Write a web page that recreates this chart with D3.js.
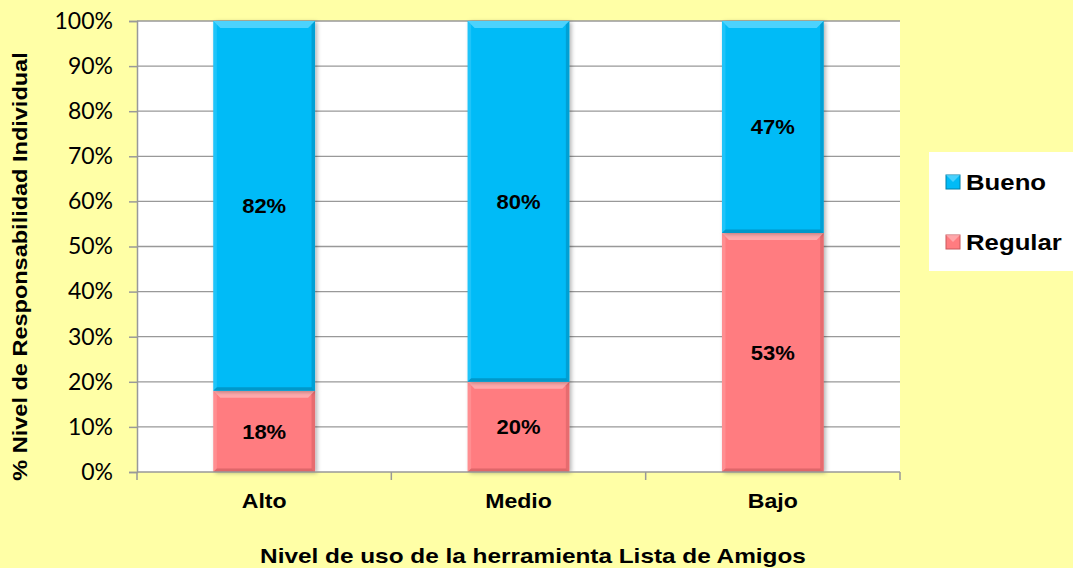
<!DOCTYPE html>
<html><head><meta charset="utf-8">
<script src="https://cdn.jsdelivr.net/npm/d3@7"></script>
<style>
html,body{margin:0;padding:0;background:#FFFFA6;}
svg{display:block;}
</style></head>
<body>
<svg id="chart" width="1073" height="568"></svg>
<script>
const categories = ["Alto", "Medio", "Bajo"];
const regular = [18, 20, 53];
const bueno = [82, 80, 47];
const seriesNames = ["Regular", "Bueno"];
const yTicks = [0,10,20,30,40,50,60,70,80,90,100];

const W = 1073, H = 568;
const m = {left:137, top:21, right:900, bottom:472};
const FONT = "Liberation Sans, Arial, sans-serif";
const svg = d3.select("#chart");
svg.append("rect").attr("width",W).attr("height",H).attr("fill","#FFFFA6");

const x = d3.scaleBand().domain(categories).range([m.left, m.right]).paddingInner(0.6).paddingOuter(0.3);
const xOuter = d3.scaleBand().domain(categories).range([m.left, m.right]);
const y = d3.scaleLinear().domain([0,100]).range([m.bottom, m.top]);

svg.append("rect").attr("x",m.left).attr("y",m.top).attr("width",m.right-m.left).attr("height",m.bottom-m.top).attr("fill","#fff");

svg.append("g").selectAll("line").data(yTicks.filter(d=>d>0)).join("line")
  .attr("x1",m.left).attr("x2",m.right).attr("y1",d=>y(d)).attr("y2",d=>y(d))
  .attr("stroke","#999").attr("stroke-width",1.3);

const colors = {Regular:"#FF7C80", Bueno:"#00BBF7"};
const dark = {Regular:"#C9585C", Bueno:"#0080AA"};
const light = {Regular:"#FFB8BA", Bueno:"#66DAFF"};

const data = categories.map((c,i)=>({cat:c, Regular:regular[i], Bueno:bueno[i]}));
const stack = d3.stack().keys(seriesNames)(data);

const defs = svg.append("defs");
const f = defs.append("filter").attr("id","sh").attr("x","-10%").attr("y","-10%").attr("width","130%").attr("height","130%");
f.append("feDropShadow").attr("dx",2).attr("dy",1).attr("stdDeviation",2).attr("flood-color","#000").attr("flood-opacity",0.3);

const bevel = 7;
stack.forEach(s=>{
  const key = s.key;
  const g = svg.append("g");
  s.forEach(d=>{
    const x0 = x(d.data.cat), bw = x.bandwidth();
    const yt = y(d[1]), yb = y(d[0]);
    const gg = g.append("g");
    gg.append("rect").attr("x",x0).attr("y",yt).attr("width",bw).attr("height",yb-yt)
      .attr("fill",colors[key]).attr("filter","url(#sh)");
    gg.append("polygon").attr("points",[[x0,yt],[x0+bw,yt],[x0+bw-bevel,yt+bevel],[x0+bevel,yt+bevel]].join(" "))
      .attr("fill",light[key]).attr("opacity",0.75);
    gg.append("polygon").attr("points",[[x0,yt],[x0+bevel*0.5,yt+bevel*0.5],[x0+bevel*0.5,yb-bevel*0.5],[x0,yb]].join(" "))
      .attr("fill",light[key]).attr("opacity",0.3);
    gg.append("polygon").attr("points",[[x0+bw,yt],[x0+bw,yb],[x0+bw-bevel*0.5,yb-bevel*0.5],[x0+bw-bevel*0.5,yt+bevel*0.5]].join(" "))
      .attr("fill",dark[key]).attr("opacity",0.45);
    gg.append("polygon").attr("points",[[x0,yb],[x0+bw,yb],[x0+bw-bevel*0.5,yb-bevel*0.5],[x0+bevel*0.5,yb-bevel*0.5]].join(" "))
      .attr("fill",dark[key]).attr("opacity",0.6);
    gg.append("text").attr("transform",`translate(${x0+bw/2},${(yt+yb)/2}) scale(1.1,1)`).attr("dy","0.36em")
      .attr("text-anchor","middle").attr("font-family",FONT)
      .attr("font-weight","bold").attr("font-size",20).attr("fill","#000")
      .text((d[1]-d[0])+"%");
  });
});

// y axis
const yAxis = d3.axisLeft(y).tickValues(yTicks).tickFormat(d=>d+"%").tickSize(8).tickPadding(16);
const ya = svg.append("g").attr("transform",`translate(${m.left},0)`).call(yAxis);
ya.select(".domain").attr("stroke","#999").attr("stroke-width",1.5);
ya.selectAll(".tick line").attr("stroke","#999").attr("stroke-width",1.5);
ya.selectAll(".tick text").attr("font-family","Lato, Open Sans, sans-serif").attr("font-size",23).attr("fill","#000");

// x axis
const xa = svg.append("g").attr("transform",`translate(0,${m.bottom})`);
xa.append("line").attr("x1",m.left).attr("x2",m.right).attr("stroke","#999").attr("stroke-width",1.5);
const bounds = categories.map(c=>xOuter(c)).concat([m.right]);
xa.selectAll("line.t").data(bounds).join("line").attr("class","t")
  .attr("x1",d=>d).attr("x2",d=>d).attr("y1",0).attr("y2",8).attr("stroke","#999").attr("stroke-width",1.5);
xa.selectAll("text").data(categories).join("text")
  .attr("transform",d=>`translate(${xOuter(d)+xOuter.bandwidth()/2},36) scale(1.1,1)`)
  .attr("text-anchor","middle").attr("font-family",FONT)
  .attr("font-weight","bold").attr("font-size",21).text(d=>d);

// axis titles
svg.append("text").attr("transform",`translate(533,563) scale(1.16,1)`).attr("text-anchor","middle")
  .attr("font-family",FONT).attr("font-weight","bold").attr("font-size",21)
  .text("Nivel de uso de la herramienta Lista de Amigos");
svg.append("text").attr("transform",`translate(27,${(m.top+m.bottom)/2+20}) rotate(-90) scale(1.12,1)`).attr("text-anchor","middle")
  .attr("font-family",FONT).attr("font-weight","bold").attr("font-size",21)
  .text("% Nivel de Responsabilidad Individual");

// legend
const lg = svg.append("g");
lg.append("rect").attr("x",929).attr("y",152).attr("width",150).attr("height",119).attr("fill","#fff");
const legendItems = ["Bueno","Regular"];
legendItems.forEach((k,i)=>{
  const yy = 182 + i*60;
  lg.append("rect").attr("x",946).attr("y",yy-7).attr("width",14).attr("height",14).attr("fill",colors[k]).attr("stroke",dark[k]).attr("stroke-width",1);
  lg.append("polygon").attr("points",[[946,yy-7],[960,yy-7],[953,yy]].join(" ")).attr("fill",light[k]).attr("opacity",0.7);
  lg.append("text").attr("transform",`translate(966,${yy}) scale(1.12,1)`).attr("dy","0.36em")
    .attr("font-family",FONT).attr("font-weight","bold").attr("font-size",23).text(k);
});
</script>
</body></html>
